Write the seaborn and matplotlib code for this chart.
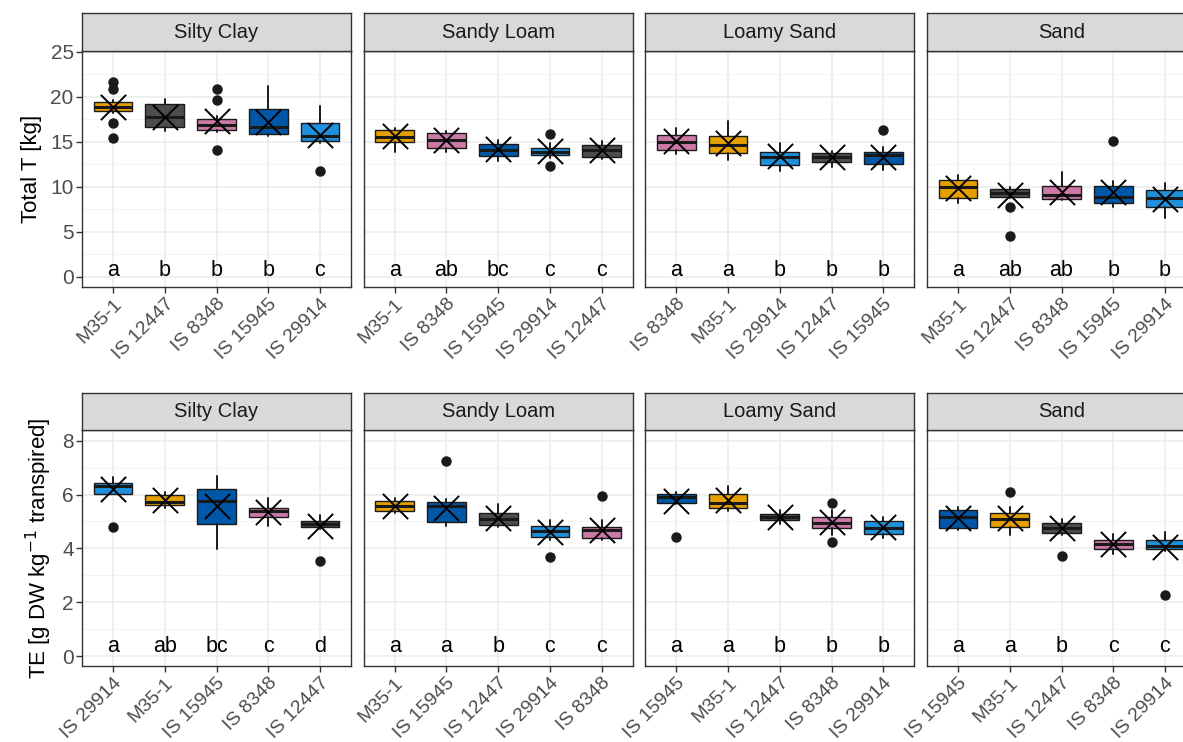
import matplotlib
matplotlib.use("Agg")
import matplotlib.pyplot as plt
import seaborn as sns
import pandas as pd
from matplotlib.ticker import MultipleLocator

sns.set_theme(style="white")
plt.rcParams['font.family'] = ['Liberation Sans', 'DejaVu Sans']

soils = ["Silty Clay", "Sandy Loam", "Loamy Sand", "Sand"]
palette = {"M35-1": "#E69F00", "IS 12447": "#4D4D4D", "IS 8348": "#CC79A7",
           "IS 15945": "#0057A8", "IS 29914": "#1E90DC"}

# ---------------- Total T [kg] ----------------
t_genotypes = [
    ["M35-1", "IS 12447", "IS 8348", "IS 15945", "IS 29914"],
    ["M35-1", "IS 8348", "IS 15945", "IS 29914", "IS 12447"],
    ["IS 8348", "M35-1", "IS 29914", "IS 12447", "IS 15945"],
    ["M35-1", "IS 12447", "IS 8348", "IS 15945", "IS 29914"],
]
t_whislo = [[18.2, 16.2, 16.1, 15.6, 14.9],
            [13.9, 13.9, 12.9, 13.2, 13.1],
            [13.6, 13.0, 11.7, 12.2, 11.9],
            [8.2, 8.7, 8.5, 7.8, 6.5]]
t_q1 = [[18.4, 16.6, 16.3, 15.9, 15.1],
        [15.0, 14.3, 13.4, 13.5, 13.3],
        [14.1, 13.8, 12.4, 12.8, 12.5],
        [8.8, 8.9, 8.6, 8.2, 7.8]]
t_med = [[18.9, 17.8, 16.9, 16.7, 15.7],
         [15.5, 15.2, 14.1, 13.9, 14.1],
         [15.0, 14.7, 13.3, 13.3, 13.5],
         [10.0, 9.3, 9.1, 8.9, 8.8]]
t_q3 = [[19.4, 19.2, 17.5, 18.6, 17.1],
        [16.3, 16.0, 14.8, 14.3, 14.7],
        [15.8, 15.6, 13.9, 13.7, 13.9],
        [10.7, 9.8, 10.1, 10.1, 9.6]]
t_whishi = [[19.6, 19.8, 17.9, 21.2, 19.0],
            [16.5, 16.2, 15.2, 14.9, 15.1],
            [16.5, 17.3, 14.9, 14.0, 14.4],
            [11.3, 10.0, 11.6, 10.6, 10.4]]
t_mean = [[18.9, 17.8, 17.3, 17.2, 15.8],
          [15.6, 15.2, 14.2, 14.0, 14.1],
          [15.1, 14.9, 13.4, 13.3, 13.3],
          [9.9, 9.1, 9.4, 9.4, 8.6]]
t_outliers = [[[21.7, 20.9, 17.1, 15.4], [], [20.9, 19.7, 14.1], [], [11.8]],
              [[], [], [], [15.9, 12.3], []],
              [[], [], [], [], [16.3]],
              [[], [7.7, 4.5], [], [15.1], []]]
t_letters = [["a", "b", "b", "b", "c"],
             ["a", "ab", "bc", "c", "c"],
             ["a", "a", "b", "b", "b"],
             ["a", "ab", "ab", "b", "b"]]

# ---------------- TE [g DW kg-1 transpired] ----------------
te_genotypes = [
    ["IS 29914", "M35-1", "IS 15945", "IS 8348", "IS 12447"],
    ["M35-1", "IS 15945", "IS 12447", "IS 29914", "IS 8348"],
    ["IS 15945", "M35-1", "IS 12447", "IS 8348", "IS 29914"],
    ["IS 15945", "M35-1", "IS 12447", "IS 8348", "IS 29914"],
]
te_whislo = [[6.04, 5.50, 3.96, 4.84, 4.72],
             [5.33, 4.83, 4.80, 4.33, 4.31],
             [5.64, 5.40, 4.90, 4.50, 4.37],
             [4.68, 4.50, 4.50, 3.81, 3.91]]
te_q1 = [[6.04, 5.60, 4.90, 5.18, 4.78],
         [5.39, 4.99, 4.87, 4.43, 4.40],
         [5.67, 5.49, 5.05, 4.77, 4.52],
         [4.74, 4.80, 4.56, 3.98, 3.98]]
te_med = [[6.32, 5.73, 5.77, 5.39, 4.90],
          [5.57, 5.57, 5.11, 4.64, 4.68],
          [5.90, 5.70, 5.15, 4.93, 4.77],
          [5.18, 5.08, 4.74, 4.16, 4.10]]
te_q3 = [[6.44, 6.00, 6.20, 5.52, 5.03],
         [5.76, 5.73, 5.32, 4.84, 4.80],
         [6.04, 6.04, 5.26, 5.18, 5.02],
         [5.42, 5.30, 4.95, 4.33, 4.31]]
te_whishi = [[6.64, 6.10, 6.70, 5.86, 5.24],
             [5.86, 5.82, 5.65, 5.05, 5.05],
             [6.10, 6.32, 5.42, 5.42, 5.18],
             [5.55, 5.55, 5.08, 4.53, 4.62]]
te_mean = [[6.20, 5.80, 5.58, 5.36, 4.84],
           [5.57, 5.52, 5.14, 4.62, 4.68],
           [5.77, 5.80, 5.15, 4.99, 4.80],
           [5.14, 5.14, 4.74, 4.16, 4.06]]
te_outliers = [[[4.80], [], [], [], [3.55]],
               [[], [7.26], [], [3.67], [5.96]],
               [[4.43], [], [], [5.70, 4.25], []],
               [[], [6.08], [3.73], [], [2.27]]]
te_letters = [["a", "ab", "bc", "c", "d"],
              ["a", "a", "b", "c", "c"],
              ["a", "a", "b", "b", "b"],
              ["a", "a", "b", "c", "c"]]

W, H = 1183, 742
fig = plt.figure(figsize=(W / 100, H / 100), dpi=100)

lefts = [82, 363.7, 645.3, 927]
pw = 269
EDGE = "#333333"


def fx(px):
    return px / W


def fy(py):
    return 1 - py / H


def draw_row(top_strip, top_ax, bot_ax, genos, wlo, q1, med, q3, whi, mean,
             outl, letters, ylim, major, minor, ylabel, letter_y):
    for k, soil in enumerate(soils):
        ax = fig.add_axes([fx(lefts[k]), fy(bot_ax), fx(pw), (bot_ax - top_ax) / H])
        ax.set_facecolor("white")
        stats = []
        for i, g in enumerate(genos[k]):
            stats.append(dict(med=med[k][i], q1=q1[k][i], q3=q3[k][i],
                              whislo=wlo[k][i], whishi=whi[k][i],
                              fliers=outl[k][i], label=g))
        bp = ax.bxp(stats, positions=list(range(5)), widths=0.75,
                    patch_artist=True, showfliers=True, showcaps=False,
                    boxprops=dict(edgecolor="#1a1a1a", linewidth=1.0),
                    medianprops=dict(color="#1a1a1a", linewidth=2.2),
                    whiskerprops=dict(color="#1a1a1a", linewidth=1.4),
                    flierprops=dict(marker="o", markerfacecolor="#1a1a1a",
                                    markeredgecolor="#1a1a1a", markersize=6.5),
                    zorder=3)
        for patch, g in zip(bp["boxes"], genos[k]):
            patch.set_facecolor(palette[g])
        df = pd.DataFrame({"pos": list(range(5)), "mean": mean[k]})
        sns.scatterplot(data=df, x="pos", y="mean", marker="x", s=330,
                        color="black", linewidth=1.4, ax=ax, zorder=5,
                        legend=False)
        for i, lab in enumerate(letters[k]):
            ax.text(i, letter_y, lab, ha="center", va="baseline",
                    fontsize=15.5, color="black", zorder=6)
        ax.set_xlim(-0.6, 4.6)
        ax.set_ylim(*ylim)
        ax.yaxis.set_major_locator(MultipleLocator(major))
        ax.yaxis.set_minor_locator(MultipleLocator(minor))
        ax.set_xticks(list(range(5)))
        ax.set_xticklabels(genos[k], rotation=45, ha="right",
                           rotation_mode="anchor", fontsize=14, color="#4D4D4D")
        ax.grid(True, which="major", color="#EBEBEB", linewidth=1.1, zorder=0)
        ax.grid(True, which="minor", axis="y", color="#F2F2F2", linewidth=0.6, zorder=0)
        ax.set_axisbelow(True)
        ax.tick_params(axis="x", which="major", length=4, width=1, color=EDGE,
                       direction="out", bottom=True, pad=2)
        ax.tick_params(axis="y", which="minor", length=0)
        if k == 0:
            ax.tick_params(axis="y", which="major", length=4, width=1, color=EDGE,
                           direction="out", left=True, labelsize=15,
                           labelcolor="#4D4D4D", pad=2)
            ax.set_ylabel(ylabel, fontsize=16, color="black", labelpad=6)
        else:
            ax.tick_params(axis="y", which="major", left=False, labelleft=False)
            ax.set_ylabel("")
        ax.set_xlabel("")
        for sp in ax.spines.values():
            sp.set_color(EDGE)
            sp.set_linewidth(1.0)
            sp.set_visible(True)
        # strip
        sax = fig.add_axes([fx(lefts[k]), fy(top_ax), fx(pw), (top_ax - top_strip) / H])
        sax.set_facecolor("#D9D9D9")
        sax.set_xticks([])
        sax.set_yticks([])
        for sp in sax.spines.values():
            sp.set_color(EDGE)
            sp.set_linewidth(1.0)
        sax.text(0.5, 0.5, soil, ha="center", va="center", fontsize=14.5,
                 color="#1a1a1a", transform=sax.transAxes)


draw_row(13, 51, 287, t_genotypes, t_whislo, t_q1, t_med, t_q3, t_whishi,
         t_mean, t_outliers, t_letters, (-1.15, 25.1), 5, 2.5,
         "Total T [kg]", 0.05)
draw_row(393, 430, 666, te_genotypes, te_whislo, te_q1, te_med, te_q3, te_whishi,
         te_mean, te_outliers, te_letters, (-0.37, 8.4), 2, 1,
         r"TE [g DW kg$^{-1}$ transpired]", 0.15)

fig.savefig("out.png", dpi=100)
